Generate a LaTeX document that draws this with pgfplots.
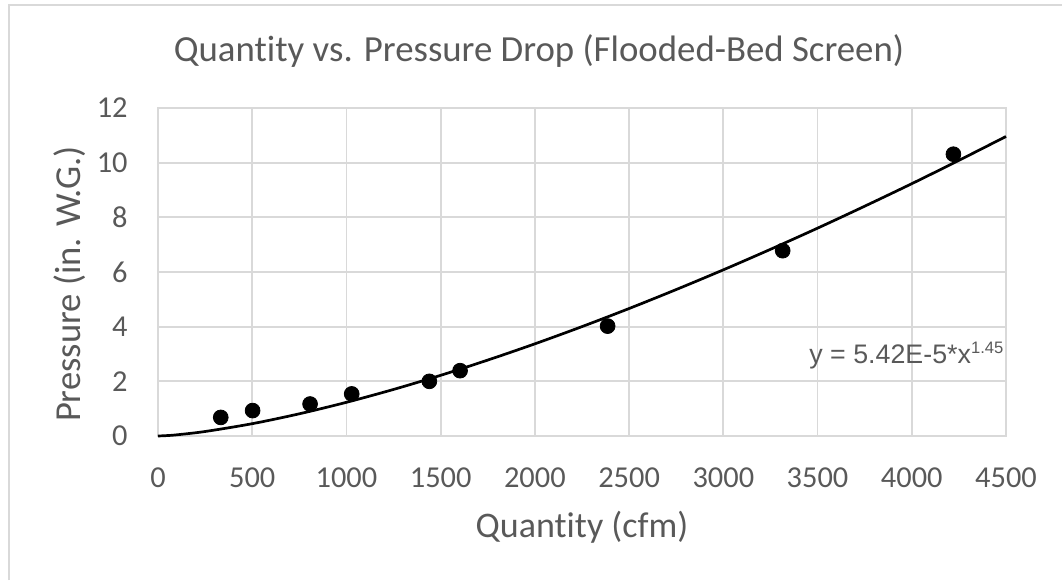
\documentclass[border=0pt]{standalone}
\usepackage{fontspec}
\setmainfont[Ligatures=NoCommon]{Carlito}
\newfontfamily\eqfont{Liberation Sans}
\usepackage{pgfplots}
\pgfplotsset{compat=1.18}
\definecolor{txt}{HTML}{595959}
\definecolor{gridc}{HTML}{D9D9D9}

\begin{document}
\begin{tikzpicture}
\useasboundingbox (0,0) rectangle (531pt,290pt);
% chart area border
\draw[gridc, line width=0.75pt] (4.5pt,0) -- (4.5pt,287.5pt) -- (531pt,287.5pt);
% title and axis titles
\node[anchor=base, text=txt, inner sep=0pt, font=\fontsize{18.4}{20}\selectfont]
  at (269.5pt,259.2pt) {Quantity vs. Pressure Drop (Flooded-Bed Screen)};
\node[anchor=base, text=txt, inner sep=0pt, font=\fontsize{18}{20}\selectfont]
  at (291pt,21.5pt) {Quantity (cfm)};
\node[anchor=base, rotate=90, text=txt, inner sep=0pt, font=\fontsize{18.3}{20}\selectfont]
  at (40pt,148pt) {Pressure (in. W.G.)};
\begin{axis}[
  at={(79pt,72pt)}, anchor=south west,
  scale only axis, width=424pt, height=164pt,
  xmin=0, xmax=4500, ymin=0, ymax=12,
  xtick={0,500,...,4500}, ytick={0,2,...,12},
  grid=major, major grid style={gridc, line width=0.9pt},
  axis line style={gridc, line width=0.9pt},
  tick style={draw=none},
  ticklabel style={text=txt, font=\fontsize{15.2}{17}\selectfont},
  /pgf/number format/assume math mode=true,
  /pgf/number format/1000 sep={},
  xticklabel style={anchor=base, yshift=-25.5pt},
  yticklabel style={anchor=east, inner sep=0pt, xshift=-15pt},
  clip=false,
]
% measured points
\addplot[only marks, mark=*, mark size=3.7pt, black] coordinates {
  (333,0.68) (502,0.93) (807,1.17) (1028,1.54) (1440,2.00)
  (1603,2.39) (2386,4.02) (3315,6.78) (4221,10.31)
};
% power trendline y = 5.42E-5 x^1.45
\addplot[black, line width=1.35pt, smooth, mark=none] coordinates {
  (0,0) (50,0.016) (100,0.0436) (250,0.1646) (500,0.4504) (750,0.8123)
  (1000,1.2324) (1250,1.7037) (1500,2.220) (1750,2.778) (2000,3.372)
  (2250,4.002) (2500,4.664) (2750,5.358) (3000,6.079) (3250,6.829)
  (3500,7.604) (3750,8.407) (4000,9.231) (4250,10.084) (4500,10.958)
};
\end{axis}
\node[anchor=base west, inner sep=0pt, text=txt, font=\eqfont\fontsize{13.4}{15}\selectfont]
  at (404.5pt,108.5pt) {y = 5.42E-5*x\raisebox{4.5pt}{\fontsize{8.3}{9}\selectfont 1.45}};
\end{tikzpicture}
\end{document}
